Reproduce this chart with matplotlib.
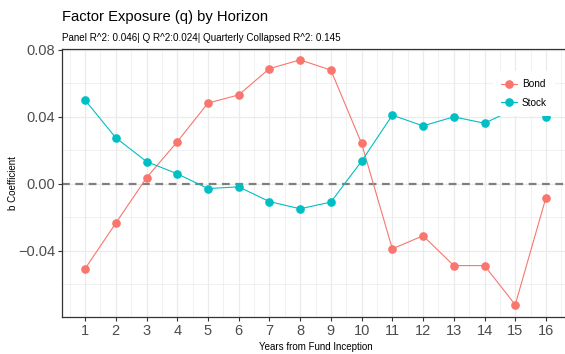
import numpy as np
import matplotlib.pyplot as plt
from matplotlib.ticker import MultipleLocator

plt.rcParams['font.family'] = ['Liberation Sans', 'DejaVu Sans']

# exposure estimates by year since inception
years = np.arange(1, 17)
bond = [-0.0507, -0.0235, 0.0036, 0.0251, 0.0482, 0.0531, 0.0688, 0.0740,
        0.0679, 0.0241, -0.0388, -0.0310, -0.0488, -0.0488, -0.0722, -0.0082]
stock = [0.0500, 0.0275, 0.0133, 0.0060, -0.0028, -0.0018, -0.0106, -0.0149,
         -0.0109, 0.0135, 0.0410, 0.0346, 0.0400, 0.0362, 0.0448, 0.0402]
y_ticks = [-0.04, 0.00, 0.04, 0.08]
y_ticklabels = ['\u22120.04', '0.00', '0.04', '0.08']

fig = plt.figure(figsize=(5.65, 3.54), dpi=100)
ax = fig.add_axes([62 / 565, 1 - 317 / 354, 507 / 565, 268 / 354])

ax.axhline(0, color='#7f7f7f', lw=1.6, ls=(0, (3.5, 2.5)), zorder=2)
ax.plot(years, bond, color='#F8766D', lw=0.8, marker='o', ms=5.2, label='Bond', zorder=3)
ax.plot(years, stock, color='#00BFC4', lw=0.8, marker='o', ms=5.2, label='Stock', zorder=3)

ax.set_xlim(0.25, 16.75)
ax.set_ylim(-0.0795, 0.0805)
ax.set_xticks(years)
ax.xaxis.set_minor_locator(MultipleLocator(0.5))
ax.set_yticks(y_ticks)
ax.set_yticklabels(y_ticklabels)
ax.yaxis.set_minor_locator(MultipleLocator(0.02))
ax.grid(which='major', color='#ebebeb', lw=0.9)
ax.grid(which='minor', color='#ebebeb', lw=0.5)
ax.set_axisbelow(True)
for s in ax.spines.values():
    s.set_color('#333333')
    s.set_linewidth(0.9)
ax.tick_params(which='major', length=3, width=0.8, color='#333333',
               labelsize=10.5, labelcolor='#4d4d4d', pad=2)
ax.tick_params(which='minor', length=0)

ax.set_xlabel('Years from Fund Inception', fontsize=7, labelpad=3)
ax.set_ylabel('b Coefficient', fontsize=7)
ax.yaxis.set_label_coords(-0.087, 0.5)

fig.text(62 / 565, 1 - 17 / 354, 'Factor Exposure (q) by Horizon', fontsize=10.6,
         va='center', ha='left')
fig.text(62 / 565, 1 - 38 / 354,
         'Panel R^2: 0.046| Q R^2:0.024| Quarterly Collapsed R^2: 0.145',
         fontsize=7.1, va='center', ha='left')

leg = ax.legend(loc='upper left', bbox_to_anchor=(0.84, 0.935), frameon=True,
                fontsize=7.2, handlelength=1.6, labelspacing=0.85,
                borderpad=0.8, handletextpad=0.5)
leg.get_frame().set_edgecolor('none')
leg.get_frame().set_facecolor('white')
leg.get_frame().set_alpha(1)

fig.savefig('out.png', dpi=100)
